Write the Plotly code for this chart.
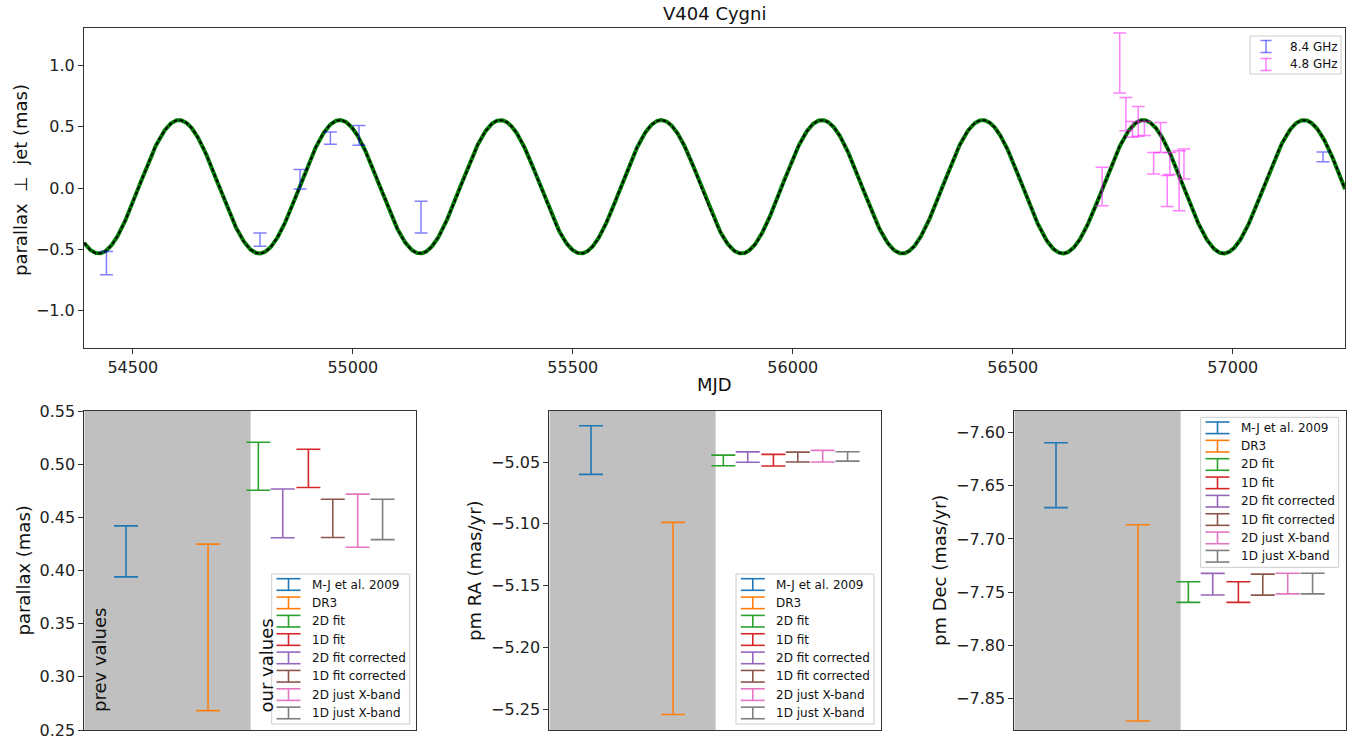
import numpy as np
import plotly.graph_objects as go

W, H = 1362, 744
FONT = "DejaVu Sans"

# ---------------- top panel data ----------------
mjd_xband = [54440, 54789, 54880, 54949, 55014, 55155, 57205]
plx_xband = [-0.613, -0.422, 0.071, 0.408, 0.430, -0.238, 0.255]
err_xband = [0.095, 0.055, 0.080, 0.050, 0.080, 0.130, 0.040]

mjd_cband = [56703, 56743, 56757, 56772, 56785, 56799, 56820, 56836, 56851, 56857, 56878, 56889]
plx_cband = [0.012, 1.021, 0.604, 0.479, 0.544, 0.486, 0.203, 0.413, -0.024, 0.200, 0.060, 0.196]
err_cband = [0.157, 0.245, 0.136, 0.065, 0.122, 0.058, 0.088, 0.122, 0.127, 0.090, 0.245, 0.123]

# parallax model curve parameters
model_amp = 0.545
model_offset = 0.01
model_period = 365.25
model_peak_mjd = 54605.0
mjd_range = [54389, 57255]
top_yrange = [-1.305, 1.305]
top_xticks = [54500, 55000, 55500, 56000, 56500, 57000]
top_yticks = [-1.0, -0.5, 0.0, 0.5, 1.0]

# ---------------- bottom panels data ----------------
labels = ["M-J et al. 2009", "DR3", "2D fit", "1D fit", "2D fit corrected",
          "1D fit corrected", "2D just X-band", "1D just X-band"]
xpos = [1.675, 4.97, 6.99, 9.0, 7.97, 9.98, 10.98, 11.98]
colors = ["#1f77b4", "#ff7f0e", "#2ca02c", "#d62728", "#9467bd", "#8c564b", "#e377c2", "#7f7f7f"]

parallax = [0.418, 0.3465, 0.498, 0.496, 0.4537, 0.449, 0.4468, 0.448]
parallax_err = [0.024, 0.0783, 0.0226, 0.018, 0.0229, 0.018, 0.025, 0.019]
pmra = [-5.0403, -5.1767, -5.0487, -5.0485, -5.0460, -5.0460, -5.0453, -5.0455]
pmra_err = [0.0197, 0.0778, 0.0043, 0.0047, 0.0042, 0.0040, 0.0047, 0.0038]
pmdec = [-7.640, -7.779, -7.750, -7.750, -7.7426, -7.743, -7.742, -7.742]
pmdec_err = [0.0305, 0.0923, 0.0097, 0.0097, 0.0102, 0.0099, 0.0097, 0.0097]

bottom_xrange = [0, 13.31]
prev_span_end = 6.68
yranges = [[0.25, 0.55], [-5.267, -5.0087], [-7.8798, -7.5796]]
ytitles = ["parallax (mas)", "pm RA (mas/yr)", "pm Dec (mas/yr)"]


def PX(x):
    return x / W


def PY(y):
    return 1 - y / H


fig = go.Figure()

# model curve
t = np.linspace(mjd_range[0], mjd_range[1], 4000)
model = model_offset + model_amp * np.cos(2 * np.pi * (t - model_peak_mjd) / model_period)
fig.add_trace(go.Scatter(x=t, y=model, mode="lines", line=dict(color="rgb(0,128,0)", width=4),
                         showlegend=False, hoverinfo="skip", xaxis="x", yaxis="y"))
fig.add_trace(go.Scatter(x=t, y=model, mode="lines",
                         line=dict(color="black", width=1.8, dash="4px,2px"),
                         showlegend=False, hoverinfo="skip", xaxis="x", yaxis="y"))

BLUE_A = "rgba(0,0,255,0.5)"
MAG_A = "rgba(255,0,255,0.5)"
fig.add_trace(go.Scatter(x=mjd_xband, y=plx_xband, mode="markers",
                         marker=dict(size=0.1, color="rgba(0,0,0,0)"),
                         error_y=dict(type="data", array=err_xband, color=BLUE_A, thickness=1.5, width=6.5),
                         showlegend=False, xaxis="x", yaxis="y"))
fig.add_trace(go.Scatter(x=mjd_cband, y=plx_cband, mode="markers",
                         marker=dict(size=0.1, color="rgba(0,0,0,0)"),
                         error_y=dict(type="data", array=err_cband, color=MAG_A, thickness=1.5, width=6.5),
                         showlegend=False, xaxis="x", yaxis="y"))

# bottom panels
datasets = [(parallax, parallax_err), (pmra, pmra_err), (pmdec, pmdec_err)]
for p, (vals, errs) in enumerate(datasets):
    ax = str(p + 2)
    for i in range(len(labels)):
        fig.add_trace(go.Scatter(x=[xpos[i]], y=[vals[i]], mode="markers",
                                 marker=dict(size=0.1, color="rgba(0,0,0,0)"),
                                 error_y=dict(type="data", array=[errs[i]], color=colors[i],
                                              thickness=1.6, width=12),
                                 showlegend=False, name=labels[i], xaxis="x" + ax, yaxis="y" + ax))

axis_common = dict(showline=True, mirror=True, linecolor="#333", linewidth=1,
                   ticks="outside", ticklen=5, tickwidth=1, tickcolor="#333",
                   showgrid=False, zeroline=False, automargin=False,
                   tickfont=dict(family=FONT, size=16, color="#222"))

top_dom_x = [PX(84), PX(1345)]
top_dom_y = [PY(347.7), PY(28.3)]
bot_dom_y = [PY(730), PY(411)]
bot_dom_x = [[PX(84.3), PX(415.7)], [PX(549.3), PX(880.7)], [PX(1014.3), PX(1345.7)]]

layout = dict(
    width=W, height=H, margin=dict(l=0, r=0, t=0, b=0, pad=0, autoexpand=False),
    paper_bgcolor="white", plot_bgcolor="white",
    font=dict(family=FONT, color="#222"),
    xaxis=dict(domain=top_dom_x, range=mjd_range, tickvals=top_xticks,
               ticktext=[str(v) for v in top_xticks], anchor="y", **axis_common),
    yaxis=dict(domain=top_dom_y, range=top_yrange, tickvals=top_yticks, tickformat=".1f",
               anchor="x", **axis_common),
)
for p in range(3):
    ax = str(p + 2)
    layout["xaxis" + ax] = dict(domain=bot_dom_x[p], range=bottom_xrange, anchor="y" + ax,
                                showline=True, mirror=True, linecolor="#333", linewidth=1,
                                showticklabels=False, ticks="", showgrid=False, zeroline=False,
                                automargin=False)
    layout["yaxis" + ax] = dict(domain=bot_dom_y, range=yranges[p], anchor="x" + ax,
                                tickformat=".2f", dtick=0.05, **axis_common)
fig.update_layout(**layout)

shapes = []
annotations = []

# grey "previous values" spans
for p in range(3):
    ax = str(p + 2)
    shapes.append(dict(type="rect", xref="x" + ax, yref="y" + ax + " domain",
                       x0=bottom_xrange[0], x1=prev_span_end, y0=0, y1=1,
                       fillcolor="#c0c0c0", line=dict(width=0), layer="below"))


def text(x, y, s, size=18, xanchor="center", yanchor="middle", angle=0):
    annotations.append(dict(x=PX(x), y=PY(y), xref="paper", yref="paper", text=s,
                            showarrow=False, xanchor=xanchor, yanchor=yanchor, textangle=angle,
                            font=dict(family=FONT, size=size, color="#111")))


# titles
text(714.5, 14, "V404 Cygni")
text(714.5, 384, "MJD")
text(20, 180, "parallax  ⊥  jet (mas)", angle=-90)
text(22.5, 571, ytitles[0], angle=-90)
text(474, 571, ytitles[1], angle=-90)
text(939, 571, ytitles[2], angle=-90)
text(99.5, 660.5, "prev values", angle=-90)
text(265.5, 666, "our values", angle=-90)


def errbar_icon(cx, cy, half_w, half_h, color, width=1.6):
    shapes.append(dict(type="line", xref="paper", yref="paper", x0=PX(cx), x1=PX(cx),
                       y0=PY(cy - half_h), y1=PY(cy + half_h), line=dict(color=color, width=width)))
    for dy in (-half_h, half_h):
        shapes.append(dict(type="line", xref="paper", yref="paper", x0=PX(cx - half_w), x1=PX(cx + half_w),
                           y0=PY(cy + dy), y1=PY(cy + dy), line=dict(color=color, width=width)))


def legend_box(x0, y0, x1, y1):
    shapes.append(dict(type="rect", xref="paper", yref="paper", x0=PX(x0), x1=PX(x1),
                       y0=PY(y1), y1=PY(y0), fillcolor="rgba(255,255,255,0.8)",
                       line=dict(color="#cccccc", width=1)))


# top legend
legend_box(1250, 36, 1341, 74)
top_leg = [("8.4 GHz", BLUE_A), ("4.8 GHz", MAG_A)]
for k, (lab, col) in enumerate(top_leg):
    cy = 46.5 + 18 * k
    errbar_icon(1266, cy, 5.5, 6, col, width=1.5)
    text(1288, cy, lab, size=12, xanchor="left")

# bottom legends
leg_boxes = [(271.7, 574), (736, 574), (1200.7, 417.3)]
for (bx, by) in leg_boxes:
    legend_box(bx, by, bx + 138, by + 150)
    for i, lab in enumerate(labels):
        cy = by + 10.5 + 18.35 * i
        errbar_icon(bx + 16.8, cy, 12, 5.8, colors[i])
        text(bx + 38, cy, lab, size=12, xanchor="left")

fig.update_layout(shapes=shapes, annotations=annotations)
fig.write_html("out.html")
